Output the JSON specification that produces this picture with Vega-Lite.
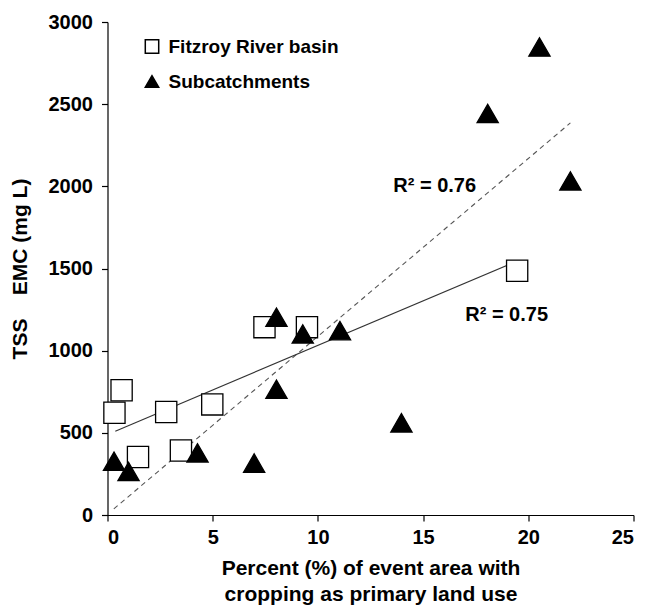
{
  "$schema": "https://vega.github.io/schema/vega-lite/v6.json",
  "width": 526,
  "height": 493,
  "autosize": {"type": "none"},
  "padding": {"left": 107.5, "top": 22, "right": 12.5, "bottom": 94},
  "background": "white",
  "config": {
    "view": {"stroke": null},
    "font": "Liberation Sans",
    "axis": {
      "grid": false,
      "domainColor": "black",
      "domainWidth": 1.2,
      "tickColor": "black",
      "tickWidth": 1.2,
      "tickSize": 6,
      "labelColor": "black",
      "labelFont": "Liberation Sans",
      "labelFontSize": 20,
      "labelFontWeight": "bold",
      "titleColor": "black",
      "titleFont": "Liberation Sans",
      "titleFontSize": 21,
      "titleFontWeight": "bold"
    }
  },
  "datasets": {
    "points": [
      {"pct": 0.33, "tss": 622, "group": "Fitzroy River basin"},
      {"pct": 0.67, "tss": 759, "group": "Fitzroy River basin"},
      {"pct": 1.45, "tss": 353, "group": "Fitzroy River basin"},
      {"pct": 2.79, "tss": 627, "group": "Fitzroy River basin"},
      {"pct": 3.49, "tss": 392, "group": "Fitzroy River basin"},
      {"pct": 4.98, "tss": 673, "group": "Fitzroy River basin"},
      {"pct": 7.46, "tss": 1143, "group": "Fitzroy River basin"},
      {"pct": 9.48, "tss": 1143, "group": "Fitzroy River basin"},
      {"pct": 19.47, "tss": 1486, "group": "Fitzroy River basin"},
      {"pct": 8.03, "tss": 1204, "group": "Subcatchments"},
      {"pct": 9.28, "tss": 1102, "group": "Subcatchments"},
      {"pct": 11.05, "tss": 1122, "group": "Subcatchments"},
      {"pct": 8.03, "tss": 765, "group": "Subcatchments"},
      {"pct": 13.97, "tss": 561, "group": "Subcatchments"},
      {"pct": 4.28, "tss": 378, "group": "Subcatchments"},
      {"pct": 6.97, "tss": 316, "group": "Subcatchments"},
      {"pct": 0.31, "tss": 327, "group": "Subcatchments"},
      {"pct": 1.0, "tss": 265, "group": "Subcatchments"},
      {"pct": 20.53, "tss": 2848, "group": "Subcatchments"},
      {"pct": 18.07, "tss": 2443, "group": "Subcatchments"},
      {"pct": 22.0, "tss": 2033, "group": "Subcatchments"}
    ],
    "fits": [
      {"pct": 0.37, "tss": 510, "fit": "Fitzroy"},
      {"pct": 19.3, "tss": 1536, "fit": "Fitzroy"},
      {"pct": 0.3, "tss": 37, "fit": "Sub"},
      {"pct": 22.0, "tss": 2386, "fit": "Sub"}
    ],
    "labels": [
      {"pct": 15.55, "tss": 2002, "label": "R² = 0.76"},
      {"pct": 18.97, "tss": 1217, "label": "R² = 0.75"}
    ]
  },
  "layer": [
    {
      "data": {"name": "fits"},
      "transform": [{"filter": "datum.fit === 'Sub'"}],
      "mark": {"type": "line", "color": "#555555", "strokeWidth": 1.1, "strokeDash": [5, 4]},
      "encoding": {
        "x": {"field": "pct", "type": "quantitative", "scale": {"domain": [0, 25], "nice": false}},
        "y": {"field": "tss", "type": "quantitative", "scale": {"domain": [0, 3000], "nice": false}}
      }
    },
    {
      "data": {"name": "fits"},
      "transform": [{"filter": "datum.fit === 'Fitzroy'"}],
      "mark": {"type": "line", "color": "#333333", "strokeWidth": 1.1},
      "encoding": {
        "x": {"field": "pct", "type": "quantitative"},
        "y": {"field": "tss", "type": "quantitative"}
      }
    },
    {
      "data": {"name": "points"},
      "mark": {"type": "point", "filled": false, "stroke": "black", "strokeWidth": 1.3, "opacity": 1, "size": 450},
      "encoding": {
        "x": {
          "field": "pct", "type": "quantitative",
          "axis": {
            "values": [0, 5, 10, 15, 20, 25],
            "format": "d",
            "labelPadding": 6,
            "titlePadding": 10,
            "titleLineHeight": 26,
            "title": ["Percent (%) of event area with", "cropping as primary land use"]
          }
        },
        "y": {
          "field": "tss", "type": "quantitative",
          "axis": {
            "values": [0, 500, 1000, 1500, 2000, 2500, 3000],
            "format": "d",
            "labelPadding": 9,
            "titlePadding": 18,
            "title": "TSS\u00a0\u00a0\u00a0\u00a0EMC (mg L)"
          }
        },
        "shape": {
          "field": "group", "type": "nominal",
          "scale": {"domain": ["Fitzroy River basin", "Subcatchments"], "range": ["square", "triangle-up"]},
          "legend": {
            "title": null, "orient": "none", "legendX": 35, "legendY": 15, "padding": 0,
            "symbolSize": 180, "labelFontSize": 19, "labelFontWeight": "bold", "labelColor": "black",
            "labelFont": "Liberation Sans", "labelOffset": 7, "rowPadding": 15, "labelLimit": 0,
            "encode": {"symbols": {"update": {"stroke": {"value": "black"}, "strokeWidth": {"value": 1.3}, "opacity": {"value": 1}}}}
          }
        },
        "fill": {
          "field": "group", "type": "nominal",
          "scale": {"domain": ["Fitzroy River basin", "Subcatchments"], "range": ["white", "black"]},
          "legend": {
            "title": null, "orient": "none", "legendX": 35, "legendY": 15, "padding": 0,
            "symbolSize": 180, "labelFontSize": 19, "labelFontWeight": "bold", "labelColor": "black",
            "labelFont": "Liberation Sans", "labelOffset": 7, "rowPadding": 15, "labelLimit": 0,
            "encode": {"symbols": {"update": {"stroke": {"value": "black"}, "strokeWidth": {"value": 1.3}, "opacity": {"value": 1}}}}
          }
        }
      }
    },
    {
      "data": {"name": "labels"},
      "mark": {"type": "text", "fontSize": 20, "font": "Liberation Sans", "fontWeight": "bold", "color": "black", "align": "center", "baseline": "middle"},
      "encoding": {
        "x": {"field": "pct", "type": "quantitative"},
        "y": {"field": "tss", "type": "quantitative"},
        "text": {"field": "label"}
      }
    }
  ]
}
